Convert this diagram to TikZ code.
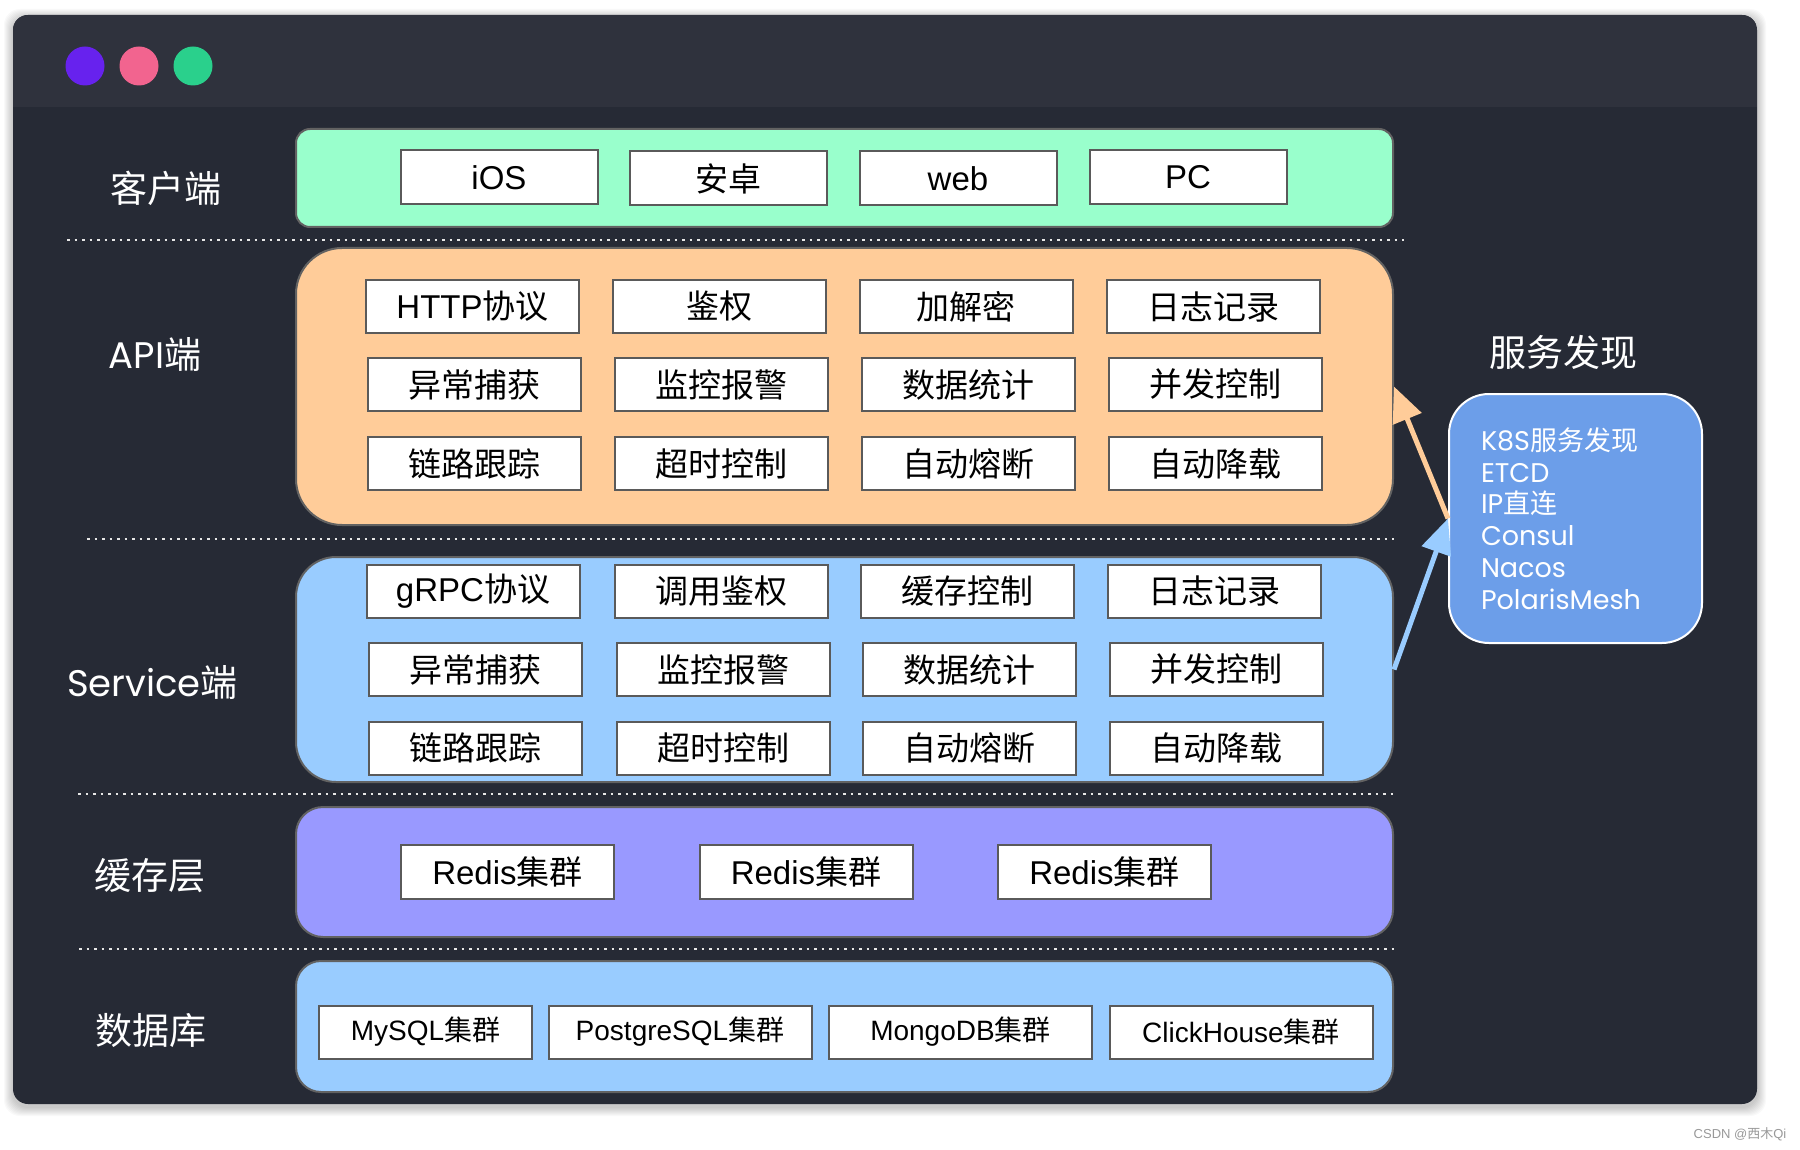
\documentclass[tikz,border=0pt]{standalone}
\usepackage{fontspec}
\setmainfont{Liberation Sans}
\newfontfamily\cjk{Noto Sans CJK SC}
\newfontfamily\geo{Poppins}
\newcommand\zh[1]{{\cjk #1}}
\usetikzlibrary{arrows.meta}
\definecolor{titlebar}{HTML}{2F323D}
\definecolor{winbody}{HTML}{262A35}
\definecolor{dotpurple}{HTML}{6722EE}
\definecolor{dotpink}{HTML}{F2648F}
\definecolor{dotgreen}{HTML}{2AD08C}
\definecolor{clientfill}{HTML}{99FFCC}
\definecolor{apifill}{HTML}{FFCC99}
\definecolor{svcfill}{HTML}{99CCFF}
\definecolor{cachefill}{HTML}{9999FF}
\definecolor{dbfill}{HTML}{99CCFF}
\definecolor{discfill}{HTML}{6C9EE9}
\definecolor{panelborder}{HTML}{626262}
\definecolor{boxborder}{HTML}{5A5A5A}
\definecolor{sepcol}{HTML}{E6E6E6}
\begin{document}
\begin{tikzpicture}[x=1pt,y=-1pt,
  panel/.style={draw=panelborder, line width=2pt, inner sep=0pt},
  box/.style={draw=boxborder, fill=white, line width=2pt, inner sep=0pt,
    minimum width=213pt, minimum height=53pt, text=black,
    font=\fontsize{33}{40}\selectfont},
  dbbox/.style={box, minimum width=263pt, font=\fontsize{28}{34}\selectfont},
  lbl/.style={text=white, inner sep=0pt, font=\geo\fontsize{37}{44}\selectfont},
  sep/.style={draw=sepcol, line width=2.5pt, dash pattern=on 2.5pt off 5pt},
  arr/.style={line width=5pt, -{Triangle[length=35pt,width=30pt]}},
  disc/.style={draw=white, line width=2pt, fill=discfill, rounded corners=40pt,
    text=white, font=\geo\fontsize{27}{31.7}\selectfont}
]
\useasboundingbox (0,0) rectangle (1800,1150);
\fill[white] (0,0) rectangle (1800,1150);
% window shadow
\foreach \i in {1,...,9}{
  \fill[black, opacity=0.022, rounded corners=16pt] (13-\i,15-\i+3) rectangle (1757+\i,1104+\i+3);
}
% window
\fill[winbody, rounded corners=15pt] (13,15) rectangle (1757,1104);
\begin{scope}
  \clip[rounded corners=15pt] (13,15) rectangle (1757,1104);
  \fill[titlebar] (13,15) rectangle (1757,107);
\end{scope}
\fill[dotpurple] (85,66) circle[radius=19.5pt];
\fill[dotpink] (139,66) circle[radius=19.5pt];
\fill[dotgreen] (193,66) circle[radius=19.5pt];

% separators
\draw[sep] (67,240) -- (1404,240);
\draw[sep] (87,539) -- (1394,539);
\draw[sep] (78,794) -- (1394,794);
\draw[sep] (79,949) -- (1394,949);

% panels
\node[panel, fill=clientfill, rounded corners=14pt, minimum width=1097pt, minimum height=98pt] (client) at (844.5,178) {};
\node[panel, fill=apifill, rounded corners=46pt, minimum width=1097pt, minimum height=277pt] (api) at (844.5,386.5) {};
\node[panel, fill=svcfill, rounded corners=40pt, minimum width=1097pt, minimum height=225pt] (svc) at (844.5,669.5) {};
\node[panel, fill=cachefill, rounded corners=27pt, minimum width=1097pt, minimum height=130pt] (cache) at (844.5,872) {};
\node[panel, fill=dbfill, rounded corners=25pt, minimum width=1097pt, minimum height=131pt] (db) at (844.5,1026.5) {};

% left labels
\node[lbl] (lclient) at (166,188) {\zh{客户端}};
\node[lbl] (lapi) at (155,355) {API\zh{端}};
\node[lbl] (lsvc) at (152.5,683) {Service\zh{端}};
\node[lbl] (lcache) at (150,876) {\zh{缓存层}};
\node[lbl] (ldb) at (150.5,1031) {\zh{数据库}};
\node[lbl] (ldisc) at (1563,352) {\zh{服务发现}};

% client boxes
\node[box, minimum width=197pt, minimum height=54pt] (ios) at (499,177.5) {iOS};
\node[box, minimum width=197pt, minimum height=54pt] (android) at (728.5,178.5) {\zh{安卓}};
\node[box, minimum width=197pt, minimum height=54pt] (web) at (958,178.5) {web};
\node[box, minimum width=197pt, minimum height=54pt] (pc) at (1188,177.5) {PC};

% API boxes
\node[box] (a11) at (472.5,306.5) {HTTP\zh{协议}};
\node[box] (a12) at (719,306.5) {\zh{鉴权}};
\node[box] (a13) at (966,306.5) {\zh{加解密}};
\node[box] (a14) at (1213,306.5) {\zh{日志记录}};
\node[box] (a21) at (474.5,384.5) {\zh{异常捕获}};
\node[box] (a22) at (721,384.5) {\zh{监控报警}};
\node[box] (a23) at (968,384.5) {\zh{数据统计}};
\node[box] (a24) at (1215,384.5) {\zh{并发控制}};
\node[box] (a31) at (474.5,463.5) {\zh{链路跟踪}};
\node[box] (a32) at (721,463.5) {\zh{超时控制}};
\node[box] (a33) at (968,463.5) {\zh{自动熔断}};
\node[box] (a34) at (1215,463.5) {\zh{自动降载}};

% Service boxes
\node[box] (s11) at (473,591) {gRPC\zh{协议}};
\node[box] (s12) at (721,591) {\zh{调用鉴权}};
\node[box] (s13) at (967,591) {\zh{缓存控制}};
\node[box] (s14) at (1214,591) {\zh{日志记录}};
\node[box] (s21) at (475,669.5) {\zh{异常捕获}};
\node[box] (s22) at (723,669.5) {\zh{监控报警}};
\node[box] (s23) at (969,669.5) {\zh{数据统计}};
\node[box] (s24) at (1216,669.5) {\zh{并发控制}};
\node[box] (s31) at (475,748) {\zh{链路跟踪}};
\node[box] (s32) at (723,748) {\zh{超时控制}};
\node[box] (s33) at (969,748) {\zh{自动熔断}};
\node[box] (s34) at (1216,748) {\zh{自动降载}};

% cache boxes
\node[box, minimum height=54pt] (r1) at (507.5,872) {Redis\zh{集群}};
\node[box, minimum height=54pt] (r2) at (806,872) {Redis\zh{集群}};
\node[box, minimum height=54pt] (r3) at (1104.5,872) {Redis\zh{集群}};

% db boxes
\node[dbbox, minimum width=213pt] (mysql) at (425.5,1032) {MySQL\zh{集群}};
\node[dbbox] (pg) at (680,1032) {PostgreSQL\zh{集群}};
\node[dbbox] (mongo) at (960.5,1032) {MongoDB\zh{集群}};
\node[dbbox] (ch) at (1241,1032) {ClickHouse\zh{集群}};

% service discovery
\node[disc, text width=189pt, align=left, inner xsep=32pt, inner ysep=0pt,
      minimum width=253pt, minimum height=249pt] (disc) at (1575.5,518.5)
  {K8S\zh{服务发现}\\ETCD\\IP\zh{直连}\\Consul\\Nacos\\PolarisMesh};

% arrows
\draw[arr, draw=apifill] (disc.west) -- (api.east);
\draw[arr, draw=svcfill] (svc.east) -- (disc.west);

% watermark
\node[text=black!40, inner sep=0pt, font=\fontsize{13}{15}\selectfont] (wm) at (1740,1134) {CSDN @\zh{西木}Qi};
\end{tikzpicture}
\end{document}
